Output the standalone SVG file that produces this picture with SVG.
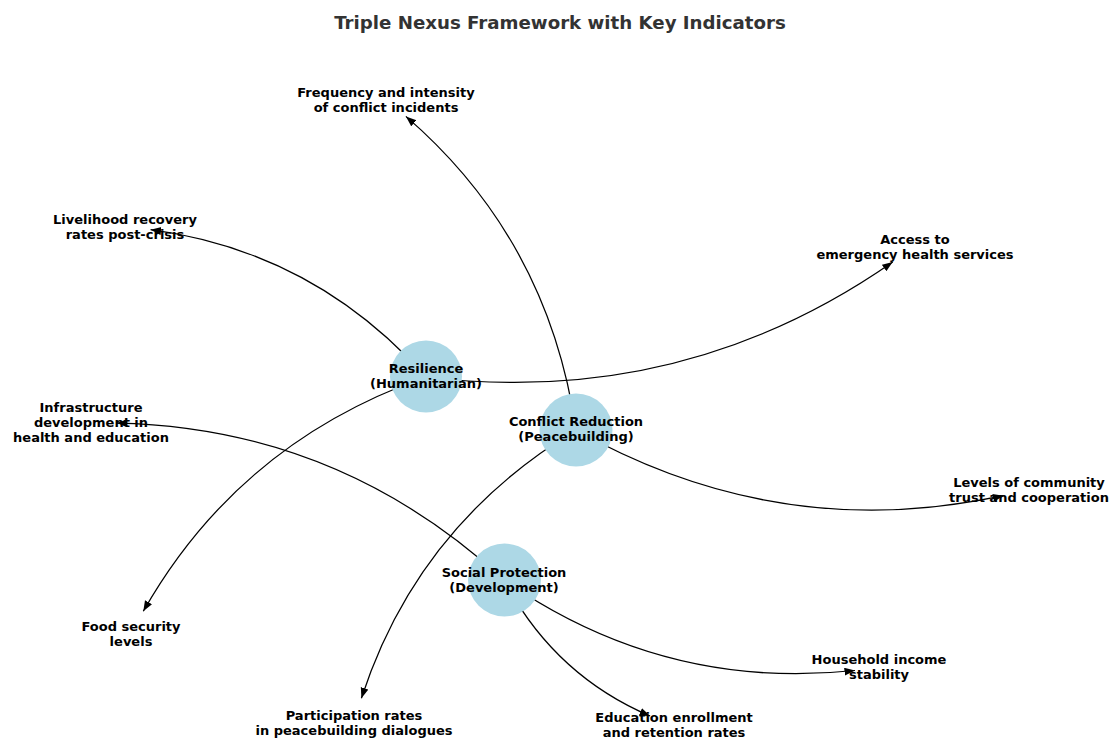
<svg xmlns="http://www.w3.org/2000/svg" width="1111" height="740" viewBox="0 0 1111 740">
<defs>
<marker id="ah" markerUnits="userSpaceOnUse" markerWidth="12" markerHeight="10" refX="10.5" refY="4" orient="auto">
<path d="M0,0 L10.5,4 L0,8 z" fill="#000"/>
</marker>
<style>
.edge{fill:none;stroke:#000;stroke-width:1.25;marker-end:url(#ah)}
.node{fill:#ADD8E6}
text{font-family:"DejaVu Sans",sans-serif;font-weight:bold;font-size:13px;fill:#000;text-anchor:middle}
.title{font-size:18.2px;fill:#333}
</style>
</defs>
<rect width="1111" height="740" fill="#fff"/>
<text class="title" x="560" y="28.5">Triple Nexus Framework with Key Indicators</text>
<g id="connectors">
<path class="edge" d="M426,377 Q314.2,251.5 150.6,229.7"/>
<path class="edge" d="M426,377 Q683,408 892.7,262"/>
<path class="edge" d="M426,377 Q239.4,442.2 143.3,611.3"/>
<path class="edge" d="M576,430 Q548.8,239.9 405.9,116.4"/>
<path class="edge" d="M576,430 Q779.1,544.2 1003.5,495.7"/>
<path class="edge" d="M576,430 Q417.5,525.4 361.4,698.3"/>
<path class="edge" d="M504,580 Q338.5,427.7 116.8,423.1"/>
<path class="edge" d="M504,580 Q663.4,691.1 855,670.5"/>
<path class="edge" d="M504,580 Q554,675 650.1,716"/>
</g>
<g id="node-resilience">
<circle class="node" cx="426" cy="376.5" r="36"/>
<text x="426" y="373">Resilience</text>
<text x="426" y="388">(Humanitarian)</text>
</g>
<g id="node-conflict">
<circle class="node" cx="576" cy="430" r="36.5"/>
<text x="576" y="426">Conflict Reduction</text>
<text x="576" y="441">(Peacebuilding)</text>
</g>
<g id="node-social">
<circle class="node" cx="504.5" cy="580" r="36.5"/>
<text x="504" y="577">Social Protection</text>
<text x="504" y="592">(Development)</text>
</g>
<g id="label-frequency">
<text x="386" y="97">Frequency and intensity</text>
<text x="386" y="112">of conflict incidents</text>
</g>
<g id="label-livelihood">
<text x="125" y="224">Livelihood recovery</text>
<text x="125" y="239">rates post-crisis</text>
</g>
<g id="label-access">
<text x="915" y="244">Access to</text>
<text x="915" y="259">emergency health services</text>
</g>
<g id="label-infrastructure">
<text x="91" y="412">Infrastructure</text>
<text x="91" y="427">development in</text>
<text x="91" y="442">health and education</text>
</g>
<g id="label-levels">
<text x="1029" y="487">Levels of community</text>
<text x="1029" y="502">trust and cooperation</text>
</g>
<g id="label-food">
<text x="131" y="631">Food security</text>
<text x="131" y="646">levels</text>
</g>
<g id="label-household">
<text x="879" y="664">Household income</text>
<text x="879" y="679">stability</text>
</g>
<g id="label-participation">
<text x="354" y="720">Participation rates</text>
<text x="354" y="735">in peacebuilding dialogues</text>
</g>
<g id="label-education">
<text x="674" y="722">Education enrollment</text>
<text x="674" y="737">and retention rates</text>
</g>
</svg>
